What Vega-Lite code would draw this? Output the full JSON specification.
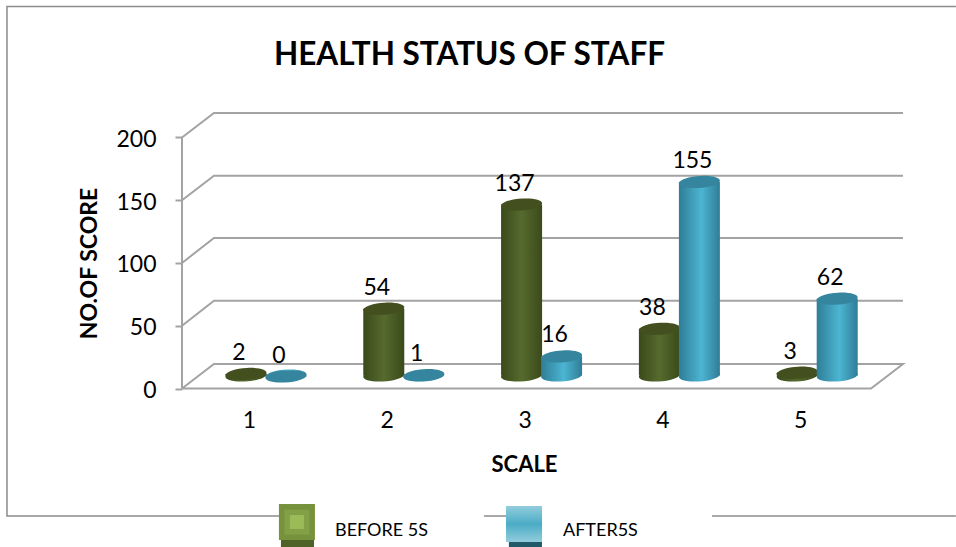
{
"$schema":"https://vega.github.io/schema/vega-lite/v6.json",
"width":721,"height":275.5,"autosize":{"type":"none"},
"padding":{"left":182,"top":113,"right":53,"bottom":158.5},
"background":"white",
"config":{"view":{"stroke":null},"font":"Lato"},
"title":{"text":"HEALTH STATUS OF STAFF","font":"Lato","fontSize":31.5,"fontWeight":"bold","color":"#000000","anchor":"middle","frame":"group","dx":-73,"offset":-68},
"datasets":{
"bars":[
{"scale":1,"series":"BEFORE 5S","value":2},{"scale":2,"series":"BEFORE 5S","value":54},{"scale":3,"series":"BEFORE 5S","value":137},{"scale":4,"series":"BEFORE 5S","value":38},{"scale":5,"series":"BEFORE 5S","value":3},
{"scale":1,"series":"AFTER5S","value":0},{"scale":2,"series":"AFTER5S","value":1},{"scale":3,"series":"AFTER5S","value":16},{"scale":4,"series":"AFTER5S","value":155},{"scale":5,"series":"AFTER5S","value":62}],
"walls":[
{"id":"g0","seq":1,"scale":0.514,"value":0},{"id":"g0","seq":2,"scale":0.746,"value":19.5},{"id":"g0","seq":3,"scale":5.746,"value":19.5},{"id":"g0","seq":4,"scale":5.514,"value":0},{"id":"g0","seq":5,"scale":0.514,"value":0},
{"id":"g50","seq":1,"scale":0.514,"value":50},{"id":"g50","seq":2,"scale":0.746,"value":70},{"id":"g50","seq":3,"scale":5.746,"value":70},
{"id":"g100","seq":1,"scale":0.514,"value":100},{"id":"g100","seq":2,"scale":0.746,"value":120},{"id":"g100","seq":3,"scale":5.746,"value":120},
{"id":"g150","seq":1,"scale":0.514,"value":150},{"id":"g150","seq":2,"scale":0.746,"value":169.5},{"id":"g150","seq":3,"scale":5.746,"value":169.5},
{"id":"g200","seq":1,"scale":0.514,"value":200},{"id":"g200","seq":2,"scale":0.746,"value":219.5},{"id":"g200","seq":3,"scale":5.746,"value":219.5},
{"id":"left","seq":1,"scale":0.514,"value":0},{"id":"left","seq":2,"scale":0.514,"value":200}],
"frame":[
{"id":"a","seq":1,"scale":1.22,"value":-101.6},{"id":"a","seq":2,"scale":-0.756,"value":-101.6},{"id":"a","seq":3,"scale":-0.756,"value":304.4},{"id":"a","seq":4,"scale":6.13,"value":304.4},
{"id":"b","seq":1,"scale":2.705,"value":-101.6},{"id":"b","seq":2,"scale":2.87,"value":-101.6},
{"id":"c","seq":1,"scale":4.36,"value":-101.6},{"id":"c","seq":2,"scale":6.13,"value":-101.6}],
"swatch":[
{"series":"BEFORE 5S","scale":1.348,"value":-106.4},
{"series":"AFTER5S","scale":2.996,"value":-108}],
"swatchbase":[
{"series":"BEFORE 5S","scale":1.232,"end":1.472,"value":-123.5},
{"series":"AFTER5S","scale":2.886,"end":3.126,"value":-123.5}]
},
"layer":[
{"data":{"name":"walls"},"mark":{"type":"line","color":"#a3a3a3","strokeWidth":2,"clip":false},
"encoding":{
"x":{"field":"scale","type":"quantitative","scale":{"domain":[0.514,5.746],"nice":false,"zero":false,"padding":0},
"axis":{"values":[1,2,3,4,5],"format":"d","title":"SCALE","titleFont":"Lato","titleFontSize":22,"titleFontWeight":"bold","titleColor":"#000","titleX":342,"titleY":76,"titleBaseline":"middle","titleAnchor":"middle","labelFont":"Lato","labelFontSize":23,"labelColor":"#000","labelPadding":32,"labelBaseline":"middle","ticks":false,"domain":false,"grid":false}},
"y":{"field":"value","type":"quantitative","scale":{"domain":[0,219.5],"nice":false},
"axis":{"values":[0,50,100,150,200],"title":"NO.OF SCORE","titleFont":"Lato","titleFontSize":23,"titleFontWeight":"bold","titleColor":"#000","titleX":-93,"titleY":150,"titleBaseline":"middle","titleAnchor":"middle","labelFont":"Lato","labelFontSize":23,"labelColor":"#000","labelPadding":19,"labelOffset":2,"tickSize":7,"tickColor":"#a3a3a3","tickWidth":2,"domain":false,"grid":false}},
"detail":{"field":"id"},"order":{"field":"seq"}}},
{"data":{"name":"frame"},"mark":{"type":"line","color":"#8c8c8c","strokeWidth":1.5,"clip":false},
"encoding":{"x":{"field":"scale","type":"quantitative"},"y":{"field":"value","type":"quantitative"},"detail":{"field":"id"},"order":{"field":"seq"}}},
{"data":{"name":"bars"},"transform":[{"filter":"datum.series==='BEFORE 5S'"}],"mark":{"type":"bar","width":41,"xOffset":-3,"yOffset":-12,"y2Offset":-13,"fill":{"gradient":"linear","x1":0,"y1":0,"x2":1,"y2":0,"stops":[{"offset":0,"color":"#3a4a1a"},{"offset":0.5,"color":"#566a2e"},{"offset":1,"color":"#3a4a1a"}]}},
"encoding":{"x":{"field":"scale","type":"quantitative"},"y":{"field":"value","type":"quantitative"},"y2":{"datum":0}}},
{"data":{"name":"bars"},"transform":[{"filter":"datum.series==='BEFORE 5S'"}],"mark":{"type":"point","filled":true,"opacity":1,"size":1681,"xOffset":-3,"yOffset":-13,"shape":"M-1,0.05A1,0.29 -4 1,1 1,-0.05A1,0.29 -4 1,1 -1,0.05Z","fill":{"gradient":"linear","x1":0,"y1":0,"x2":1,"y2":0,"stops":[{"offset":0,"color":"#3a4a1a"},{"offset":0.5,"color":"#566a2e"},{"offset":1,"color":"#3a4a1a"}]}},
"encoding":{"x":{"field":"scale","type":"quantitative"},"y":{"datum":0}}},
{"data":{"name":"bars"},"transform":[{"filter":"datum.series==='BEFORE 5S'"}],"mark":{"type":"point","filled":true,"opacity":1,"size":1681,"xOffset":-3,"yOffset":-12,"shape":"M-1,0.05A1,0.29 -4 1,1 1,-0.05A1,0.29 -4 1,1 -1,0.05Z","fill":"#434f1f"},
"encoding":{"x":{"field":"scale","type":"quantitative"},"y":{"field":"value","type":"quantitative"}}},
{"data":{"name":"bars"},"transform":[{"filter":"datum.series==='AFTER5S'"}],"mark":{"type":"bar","width":41,"xOffset":37,"yOffset":-12,"y2Offset":-13,"fill":{"gradient":"linear","x1":0,"y1":0,"x2":1,"y2":0,"stops":[{"offset":0,"color":"#2f7d96"},{"offset":0.55,"color":"#4cb5d2"},{"offset":1,"color":"#2f7d96"}]}},
"encoding":{"x":{"field":"scale","type":"quantitative"},"y":{"field":"value","type":"quantitative"},"y2":{"datum":0}}},
{"data":{"name":"bars"},"transform":[{"filter":"datum.series==='AFTER5S'"}],"mark":{"type":"point","filled":true,"opacity":1,"size":1681,"xOffset":37,"yOffset":-13,"shape":"M-1,0.05A1,0.29 -4 1,1 1,-0.05A1,0.29 -4 1,1 -1,0.05Z","fill":{"gradient":"linear","x1":0,"y1":0,"x2":1,"y2":0,"stops":[{"offset":0,"color":"#2f7d96"},{"offset":0.55,"color":"#4cb5d2"},{"offset":1,"color":"#2f7d96"}]}},
"encoding":{"x":{"field":"scale","type":"quantitative"},"y":{"datum":0}}},
{"data":{"name":"bars"},"transform":[{"filter":"datum.series==='AFTER5S'"}],"mark":{"type":"point","filled":true,"opacity":1,"size":1681,"xOffset":37,"yOffset":-12,"shape":"M-1,0.05A1,0.29 -4 1,1 1,-0.05A1,0.29 -4 1,1 -1,0.05Z","fill":"#36859e"},
"encoding":{"x":{"field":"scale","type":"quantitative"},"y":{"field":"value","type":"quantitative"}}},
{"data":{"name":"bars"},"transform":[{"filter":"datum.series==='BEFORE 5S'"}],"mark":{"type":"text","font":"Lato","fontSize":23,"color":"#000","baseline":"middle","align":"center","xOffset":-10,"yOffset":-33},
"encoding":{"x":{"field":"scale","type":"quantitative"},"y":{"field":"value","type":"quantitative"},"text":{"field":"value","type":"quantitative"}}},
{"data":{"name":"bars"},"transform":[{"filter":"datum.series==='AFTER5S'"}],"mark":{"type":"text","font":"Lato","fontSize":23,"color":"#000","baseline":"middle","align":"center","xOffset":30,"yOffset":-33},
"encoding":{"x":{"field":"scale","type":"quantitative"},"y":{"field":"value","type":"quantitative"},"text":{"field":"value","type":"quantitative"}}},
{"data":{"name":"bars"},"mark":{"type":"point","filled":true,"size":0,"opacity":1},
"encoding":{"x":{"field":"scale","type":"quantitative"},"y":{"field":"value","type":"quantitative"},
"color":{"field":"series","type":"nominal","scale":{"domain":["BEFORE 5S","AFTER5S"],"range":["#76923c","#4bacc6"]},
"legend":{"title":null,"orient":"none","legendX":97,"legendY":391,"direction":"horizontal","columns":2,"symbolType":"square","symbolSize":1296,"symbolStrokeWidth":0,"labelFont":"Lato","labelFontSize":18,"labelColor":"#000","labelOffset":20,"labelBaseline":"top","columnPadding":79,"symbolOpacity":0}}}},
{"data":{"name":"swatchbase"},"transform":[{"filter":"datum.series==='BEFORE 5S'"}],"mark":{"type":"rule","strokeWidth":7,"color":"#4f6228"},
"encoding":{"x":{"field":"scale","type":"quantitative"},"x2":{"field":"end"},"y":{"field":"value","type":"quantitative"}}},
{"data":{"name":"swatchbase"},"transform":[{"filter":"datum.series==='AFTER5S'"}],"mark":{"type":"rule","strokeWidth":7,"color":"#215968"},
"encoding":{"x":{"field":"scale","type":"quantitative"},"x2":{"field":"end"},"y":{"field":"value","type":"quantitative"}}},
{"data":{"name":"swatch"},"transform":[{"filter":"datum.series==='BEFORE 5S'"}],"mark":{"type":"square","size":1296,"opacity":1,"fill":"#76923c"},
"encoding":{"x":{"field":"scale","type":"quantitative"},"y":{"field":"value","type":"quantitative"}}},
{"data":{"name":"swatch"},"transform":[{"filter":"datum.series==='BEFORE 5S'"}],"mark":{"type":"square","size":625,"opacity":1,"fill":"#84a046"},
"encoding":{"x":{"field":"scale","type":"quantitative"},"y":{"field":"value","type":"quantitative"}}},
{"data":{"name":"swatch"},"transform":[{"filter":"datum.series==='BEFORE 5S'"}],"mark":{"type":"square","size":196,"opacity":1,"fill":"#9bbb59"},
"encoding":{"x":{"field":"scale","type":"quantitative"},"y":{"field":"value","type":"quantitative"}}},
{"data":{"name":"swatch"},"transform":[{"filter":"datum.series==='AFTER5S'"}],"mark":{"type":"square","size":1296,"opacity":1,"fill":{"gradient":"linear","x1":0,"y1":0,"x2":0,"y2":1,"stops":[{"offset":0,"color":"#92cddc"},{"offset":0.5,"color":"#4bacc6"},{"offset":1,"color":"#92cddc"}]}},
"encoding":{"x":{"field":"scale","type":"quantitative"},"y":{"field":"value","type":"quantitative"}}}
]
}
